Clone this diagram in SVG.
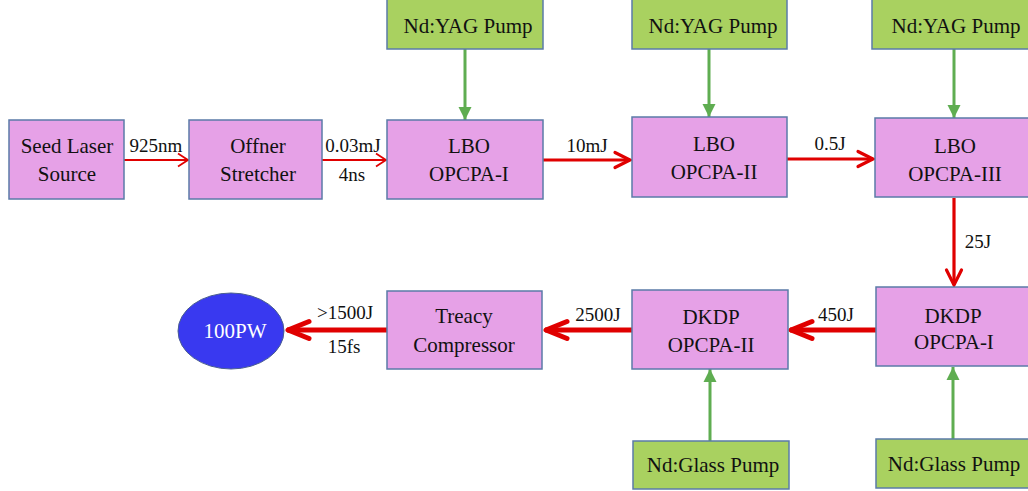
<svg xmlns="http://www.w3.org/2000/svg" width="1028" height="491" viewBox="0 0 1028 491">
<style>
  .amp { fill: #E6A1E7; stroke: #5B7BA8; stroke-width: 1.5; }
  .pump { fill: #A9D160; stroke: #5B7BA8; stroke-width: 1.5; }
  .t { font-family: "Liberation Serif", "Times New Roman", serif; font-size: 21px; fill: #111; text-anchor: middle; }
  .lbl { font-family: "Liberation Serif", "Times New Roman", serif; font-size: 19px; fill: #111; text-anchor: middle; }
  .red1 { fill: none; stroke: #E00000; stroke-width: 1.8; }
  .red2 { fill: none; stroke: #E00000; stroke-width: 3.2; }
  .red3 { fill: none; stroke: #E00000; stroke-width: 5; }
  .grn { fill: none; stroke: #5FAD51; stroke-width: 3; }
</style>
<defs>
  <marker id="chevThin" markerUnits="userSpaceOnUse" viewBox="-12 -9 14 18" refX="0" refY="0" markerWidth="14" markerHeight="18" orient="auto" overflow="visible">
    <path d="M-10,-6.5 L0,0 L-10,6.5" fill="none" stroke="#E00000" stroke-width="1.8"/>
  </marker>
  <marker id="chevMid" markerUnits="userSpaceOnUse" viewBox="-18 -10 20 20" refX="0" refY="0" markerWidth="20" markerHeight="20" orient="auto" overflow="visible">
    <path d="M-15,-7.5 L0,0 L-15,7.5" fill="none" stroke="#E00000" stroke-width="3.2" stroke-linecap="round"/>
  </marker>
  <marker id="chevThick" markerUnits="userSpaceOnUse" viewBox="-26 -12 28 24" refX="0" refY="0" markerWidth="28" markerHeight="24" orient="auto" overflow="visible">
    <path d="M-22,-8.5 L-1,0 L-22,8.5" fill="none" stroke="#E00000" stroke-width="5" stroke-linecap="round" stroke-linejoin="round"/>
  </marker>
  <marker id="triG" markerUnits="userSpaceOnUse" viewBox="-14 -8 14 16" refX="0" refY="0" markerWidth="14" markerHeight="16" orient="auto" overflow="visible">
    <path d="M-13,-6.5 L0,0 L-13,6.5 Z" fill="#5FAD51"/>
  </marker>
</defs>

<g id="connectors">
  <path class="red1" d="M124,160 L188,160" marker-end="url(#chevThin)"/>
  <path class="red1" d="M322,160 L386,160" marker-end="url(#chevThin)"/>
  <path class="red2" d="M543,160 L630,160" marker-end="url(#chevMid)"/>
  <path class="red2" d="M787,159 L873,159" marker-end="url(#chevMid)"/>
  <path class="red2" d="M954,198 L954,285" marker-end="url(#chevMid)"/>
  <path class="red3" d="M876,330 L790,330" marker-end="url(#chevThick)"/>
  <path class="red3" d="M632,330 L545,330" marker-end="url(#chevThick)"/>
  <path class="red3" d="M387,330 L287,330" marker-end="url(#chevThick)"/>
  <path class="grn" d="M465,49 L465,120" marker-end="url(#triG)"/>
  <path class="grn" d="M709,49 L709,117" marker-end="url(#triG)"/>
  <path class="grn" d="M954,49 L954,118" marker-end="url(#triG)"/>
  <path class="grn" d="M710,441 L710,369" marker-end="url(#triG)"/>
  <path class="grn" d="M953,439 L953,367" marker-end="url(#triG)"/>
  <text class="lbl" x="156" y="152">925nm</text>
  <text class="lbl" x="353" y="152">0.03mJ</text>
  <text class="lbl" x="352" y="181">4ns</text>
  <text class="lbl" x="587" y="152">10mJ</text>
  <text class="lbl" x="830" y="150">0.5J</text>
  <text class="lbl" x="978" y="248">25J</text>
  <text class="lbl" x="836" y="321">450J</text>
  <text class="lbl" x="598" y="321">2500J</text>
  <text class="lbl" x="345" y="319">&gt;1500J</text>
  <text class="lbl" x="344" y="353">15fs</text>
</g>

<g id="seed">
  <rect class="amp" x="9" y="120" width="115" height="79"/>
  <text class="t" x="67" y="153">Seed Laser</text>
  <text class="t" x="67" y="181">Source</text>
</g>
<g id="offner">
  <rect class="amp" x="189" y="120" width="133" height="79"/>
  <text class="t" x="258" y="153">Offner</text>
  <text class="t" x="258" y="181">Stretcher</text>
</g>
<g id="lbo1">
  <rect class="amp" x="387" y="120" width="156" height="79"/>
  <text class="t" x="469" y="153">LBO</text>
  <text class="t" x="469" y="181">OPCPA-I</text>
</g>
<g id="lbo2">
  <rect class="amp" x="632" y="117" width="155" height="80"/>
  <text class="t" x="714" y="151">LBO</text>
  <text class="t" x="714" y="179">OPCPA-II</text>
</g>
<g id="lbo3">
  <rect class="amp" x="875" y="118" width="160" height="79"/>
  <text class="t" x="955" y="153">LBO</text>
  <text class="t" x="955" y="181">OPCPA-III</text>
</g>
<g id="pump1">
  <rect class="pump" x="387" y="-1" width="156" height="50"/>
  <text class="t" x="468" y="33">Nd:YAG Pump</text>
</g>
<g id="pump2">
  <rect class="pump" x="632" y="-1" width="155" height="50"/>
  <text class="t" x="713" y="33">Nd:YAG Pump</text>
</g>
<g id="pump3">
  <rect class="pump" x="872" y="-1" width="160" height="50"/>
  <text class="t" x="956" y="33">Nd:YAG Pump</text>
</g>
<g id="dkdp1">
  <rect class="amp" x="876" y="287" width="160" height="79"/>
  <text class="t" x="953" y="323">DKDP</text>
  <text class="t" x="954" y="349">OPCPA-I</text>
</g>
<g id="dkdp2">
  <rect class="amp" x="632" y="290" width="156" height="79"/>
  <text class="t" x="711" y="324">DKDP</text>
  <text class="t" x="711" y="352">OPCPA-II</text>
</g>
<g id="treacy">
  <rect class="amp" x="387" y="291" width="155" height="78"/>
  <text class="t" x="464" y="323">Treacy</text>
  <text class="t" x="464" y="352">Compressor</text>
</g>
<g id="glass2">
  <rect class="pump" x="633" y="441" width="156" height="48"/>
  <text class="t" x="713" y="472">Nd:Glass Pump</text>
</g>
<g id="glass1">
  <rect class="pump" x="876" y="439" width="160" height="49"/>
  <text class="t" x="954" y="471">Nd:Glass Pump</text>
</g>
<g id="output">
  <ellipse cx="231" cy="331" rx="53" ry="38" fill="#3939F0" stroke="#4A5E90" stroke-width="1"/>
  <text class="t" x="235" y="338" style="fill:#FFFFFF">100PW</text>
</g>
</svg>
